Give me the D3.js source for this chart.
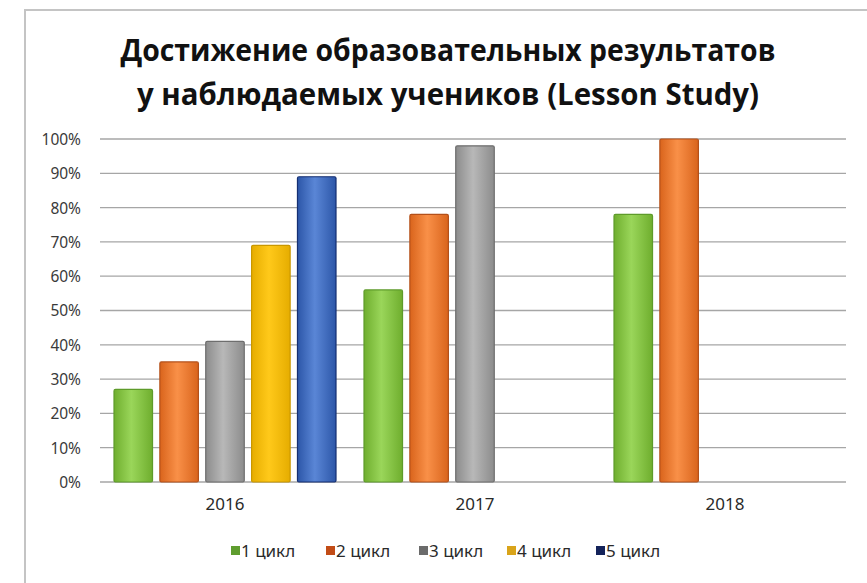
<!DOCTYPE html>
<html>
<head>
<meta charset="utf-8">
<script src="https://cdn.jsdelivr.net/npm/d3@7"></script>
<style>
  html, body { margin: 0; padding: 0; background: #fff; }
  svg { display: block; }
</style>
</head>
<body>
<svg id="chart" width="867" height="583"></svg>
<script>
const titleLines = ["Достижение образовательных  результатов", "у наблюдаемых учеников (Lesson Study)"];
const years = ["2016", "2017", "2018"];
const series = ["1 цикл", "2 цикл", "3 цикл", "4 цикл", "5 цикл"];
// values per series, indexed by year (null = no bar)
const cycle1 = [0.27, 0.56, 0.78];
const cycle2 = [0.35, 0.78, 1.00];
const cycle3 = [0.41, 0.98, null];
const cycle4 = [0.69, null, null];
const cycle5 = [0.89, null, null];
const yTicks = [0, 0.1, 0.2, 0.3, 0.4, 0.5, 0.6, 0.7, 0.8, 0.9, 1.0];

const seriesValues = [cycle1, cycle2, cycle3, cycle4, cycle5];
const fills = [
  ["#6fae2e", "#9ad65a"],
  ["#d9641c", "#f99048"],
  ["#8c8c8c", "#b8b8b8"],
  ["#e6ad00", "#ffc91a"],
  ["#2c56a8", "#5a86d6"]
];
const strokes = ["#5e9b2a", "#b4501a", "#6e6e6e", "#c99700", "#152f72"];
const legendColors = ["#5f9d2f", "#c24c16", "#6b6b6b", "#d9a41a", "#14235a"];

const svg = d3.select("#chart");
const defs = svg.append("defs");
fills.forEach((f, i) => {
  const g = defs.append("linearGradient").attr("id", "g" + i)
    .attr("x1", "0%").attr("x2", "100%").attr("y1", "0%").attr("y2", "0%");
  g.append("stop").attr("offset", "0%").attr("stop-color", f[0]);
  g.append("stop").attr("offset", "45%").attr("stop-color", f[1]);
  g.append("stop").attr("offset", "100%").attr("stop-color", f[0]);
});

// chart frame (left and top border visible)
svg.append("path").attr("d", "M25,583 L25,10 L867,10")
  .attr("fill", "none").attr("stroke", "#c4c4c4").attr("stroke-width", 2);

// title
svg.selectAll("text.title").data(titleLines).enter().append("text")
  .attr("class", "title")
  .attr("x", 448).attr("y", (d, i) => 61 + i * 44)
  .attr("text-anchor", "middle")
  .attr("font-family", "'Open Sans', 'DejaVu Sans', sans-serif")
  .attr("font-weight", "bold").attr("font-size", 30)
  .attr("fill", "#111")
  .attr("textLength", (d, i) => i === 0 ? 655 : 622)
  .attr("lengthAdjust", "spacingAndGlyphs")
  .text(d => d);

const x0 = 100, x1 = 850, yTop = 139, yBot = 482;
const x = d3.scaleBand().domain(years).range([x0, x1]).paddingInner(0).paddingOuter(0);
const xs = d3.scaleBand().domain(d3.range(series.length)).range([14, 236]).paddingInner(0.16).paddingOuter(0);
const y = d3.scaleLinear().domain([0, 1]).range([yBot, yTop]);

// gridlines
svg.append("g").selectAll("line").data(yTicks).enter().append("line")
  .attr("x1", x0).attr("x2", 846)
  .attr("y1", d => y(d)).attr("y2", d => y(d))
  .attr("stroke", "#a6a6a6").attr("stroke-width", 1.3);

// y axis labels
const yAxis = d3.axisLeft(y).tickValues(yTicks).tickFormat(d3.format(".0%")).tickSize(0).tickPadding(0);
const ya = svg.append("g").attr("transform", "translate(81,0)").call(yAxis);
ya.select(".domain").remove();
ya.selectAll("text").attr("font-family", "'Noto Sans', 'Open Sans', sans-serif")
  .attr("font-size", 15.5).attr("fill", "#3a3a3a").attr("dy", "0.35em");

// x axis labels
const xAxis = d3.axisBottom(x).tickSize(0).tickPadding(0);
const xa = svg.append("g").attr("transform", "translate(0,498)").call(xAxis);
xa.select(".domain").remove();
xa.selectAll("text").attr("font-family", "'Noto Sans', 'Open Sans', sans-serif")
  .attr("font-size", 17).attr("fill", "#2a2a2a").attr("dy", "0.71em");

// bars
const barData = [];
seriesValues.forEach((vals, si) => {
  vals.forEach((v, yi) => {
    if (v !== null) barData.push({ s: si, year: years[yi], v: v });
  });
});
svg.append("g").selectAll("rect").data(barData).enter().append("rect")
  .attr("x", d => x(d.year) + xs(d.s))
  .attr("width", xs.bandwidth())
  .attr("y", d => y(d.v))
  .attr("height", d => y(0) - y(d.v))
  .attr("rx", 1.5)
  .attr("fill", d => "url(#g" + d.s + ")")
  .attr("stroke", d => strokes[d.s]).attr("stroke-width", 1.2);

// legend
const legendX = [231, 326, 419, 507, 596];
const lg = svg.append("g").selectAll("g").data(series).enter().append("g")
  .attr("transform", (d, i) => `translate(${legendX[i]},551)`);
lg.append("rect").attr("x", 0).attr("y", -5).attr("width", 9).attr("height", 9)
  .attr("fill", (d, i) => legendColors[i]);
lg.append("text").attr("x", 10).attr("y", 0).attr("dy", "0.35em")
  .attr("font-family", "'Noto Sans', 'Open Sans', sans-serif")
  .attr("font-size", 17).attr("fill", "#2a2a2a").text(d => d);
</script>
</body>
</html>
